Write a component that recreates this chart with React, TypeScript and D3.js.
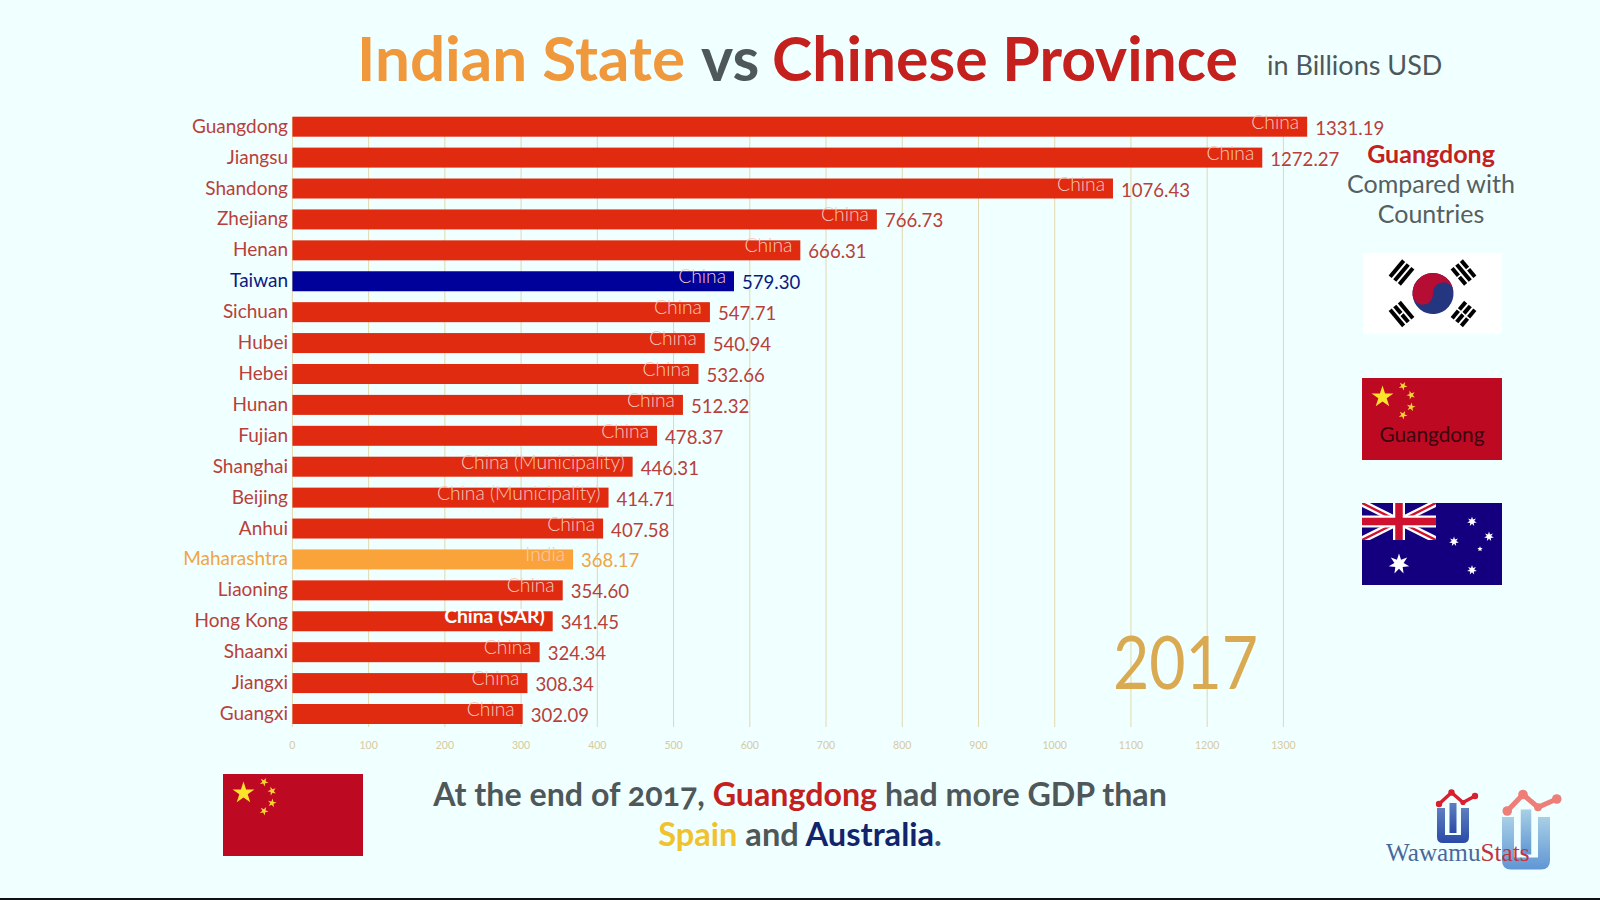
import React from "react";
import * as d3 from "d3";

const categories = ["Guangdong","Jiangsu","Shandong","Zhejiang","Henan","Taiwan","Sichuan","Hubei","Hebei","Hunan","Fujian","Shanghai","Beijing","Anhui","Maharashtra","Liaoning","Hong Kong","Shaanxi","Jiangxi","Guangxi"];
const values = [1331.19,1272.27,1076.43,766.73,666.31,579.30,547.71,540.94,532.66,512.32,478.37,446.31,414.71,407.58,368.17,354.60,341.45,324.34,308.34,302.09];
const countries = ["China","China","China","China","China","China","China","China","China","China","China","China (Municipality)","China (Municipality)","China","India","China","China (SAR)","China","China","China"];
const ticks = [0,100,200,300,400,500,600,700,800,900,1000,1100,1200,1300];

const FONT = "Lato, 'Open Sans', sans-serif";
const x = d3.scaleLinear().domain([0, 1300]).range([292.4, 1283.4]);
const y = d3.scaleBand<string>().domain(categories).range([116.7, 724]).paddingInner(0.353).paddingOuter(0);

const barColor = (c: string) => c === "Taiwan" ? "#00009a" : c === "Maharashtra" ? "#fba33b" : "#e02b10";
const textColor = (c: string) => c === "Taiwan" ? "#0b1a82" : c === "Maharashtra" ? "#f0a544" : "#b9403a";

function star(cx: number, cy: number, r: number, rot = 0, n = 5, inner = 0.382) {
  const pts: string[] = [];
  for (let i = 0; i < n * 2; i++) {
    const a = rot - Math.PI / 2 + (i * Math.PI) / n;
    const rr = i % 2 === 0 ? r : r * inner;
    pts.push(`${cx + rr * Math.cos(a)},${cy + rr * Math.sin(a)}`);
  }
  return pts.join(" ");
}

function ChinaFlag({ fx, fy, label }: { fx: number; fy: number; label?: string }) {
  return (
    <g transform={`translate(${fx},${fy})`}>
      <rect width={140} height={82} fill="#bd0a22" />
      <polygon points={star(20.5, 19, 11.5)} fill="#fbe32c" />
      <polygon points={star(41, 8, 4.6, 0.5)} fill="#f7d433" />
      <polygon points={star(49, 17, 4.6, 0.9)} fill="#f7d433" />
      <polygon points={star(49, 29, 4.6, 0.2)} fill="#f7d433" />
      <polygon points={star(41, 37, 4.6, 0.5)} fill="#f7d433" />
      {label && <text x={70} y={63.5} textAnchor="middle" fontFamily={FONT} fontSize={20.8} fill="#3a0610">{label}</text>}
    </g>
  );
}

function Trigram({ cx, cy, rot, gaps }: { cx: number; cy: number; rot: number; gaps: boolean[] }) {
  return (
    <g transform={`translate(${cx},${cy}) rotate(${rot})`}>
      {[-6, 0, 6].map((o, i) => gaps[i] ? (
        <g key={i}>
          <rect x={-10.5} y={o - 2} width={9.7} height={4} fill="#000" />
          <rect x={0.8} y={o - 2} width={9.7} height={4} fill="#000" />
        </g>
      ) : <rect key={i} x={-10.5} y={o - 2} width={21} height={4} fill="#000" />)}
    </g>
  );
}

function KoreaFlag({ fx, fy }: { fx: number; fy: number }) {
  const r = 20.5;
  return (
    <g transform={`translate(${fx},${fy})`}>
      <rect width={139} height={81} fill="#fff" />
      <g transform="translate(70,40.5) rotate(-5)">
        <circle r={r} fill="#24367f" />
        <path d={`M${-r},0 A${r},${r} 0 0 1 ${r},0 A${r / 2},${r / 2} 0 0 0 0,0 A${r / 2},${r / 2} 0 0 1 ${-r},0 Z`} fill="#b50d34" />
      </g>
      <Trigram cx={38.5} cy={19.5} rot={-50} gaps={[false, false, false]} />
      <Trigram cx={100.5} cy={19.5} rot={50} gaps={[true, false, true]} />
      <Trigram cx={38.5} cy={61} rot={50} gaps={[false, true, false]} />
      <Trigram cx={100.5} cy={61} rot={-50} gaps={[true, true, true]} />
    </g>
  );
}

function AustraliaFlag({ fx, fy }: { fx: number; fy: number }) {
  const w = 74, h = 37;
  return (
    <g transform={`translate(${fx},${fy})`}>
      <rect width={140} height={82} fill="#14007f" />
      <clipPath id="canton"><rect width={w} height={h} /></clipPath>
      <g clipPath="url(#canton)">
        <path d={`M0,0L${w},${h}M${w},0L0,${h}`} stroke="#fff" strokeWidth={7} />
        <path d={`M0,0L${w},${h}M${w},0L0,${h}`} stroke="#d0102f" strokeWidth={2.4} />
        <path d={`M${w / 2},0V${h}M0,${h / 2}H${w}`} stroke="#fff" strokeWidth={12} />
        <path d={`M${w / 2},0V${h}M0,${h / 2}H${w}`} stroke="#d0102f" strokeWidth={7.5} />
      </g>
      <polygon points={star(37, 61, 10.5, 0, 7, 0.45)} fill="#fff" />
      <polygon points={star(110, 18.5, 5, 0, 7, 0.45)} fill="#fff" />
      <polygon points={star(127, 33.5, 5, 0, 7, 0.45)} fill="#fff" />
      <polygon points={star(92, 38.5, 5, 0, 7, 0.45)} fill="#fff" />
      <polygon points={star(118, 46, 2.8, 0, 5, 0.45)} fill="#fff" />
      <polygon points={star(110, 67, 5, 0, 7, 0.45)} fill="#fff" />
    </g>
  );
}

function Logo({ id, ox, oy, s, fillA, fillB, lineCol, pts }: { id: string; ox: number; oy: number; s: number; fillA: string; fillB: string; lineCol: string; pts: number[][] }) {
  const line = d3.line()(pts.map(p => [p[0], p[1]] as [number, number])) || "";
  return (
    <g transform={`translate(${ox},${oy}) scale(${s})`}>
      <linearGradient id={id} x1="0" y1="0" x2="0" y2="1">
        <stop offset="0" stopColor={fillA} /><stop offset="1" stopColor={fillB} />
      </linearGradient>
      <path d="M0,0H8V27H24V0H32V29Q32,35 26,35H6Q0,35 0,29Z" fill={`url(#${id})`} />
      <rect x={12.5} y={-5} width={7} height={30} fill={`url(#${id})`} />
      <path d={line} fill="none" stroke={lineCol} strokeWidth={3.4} />
      {pts.map((p, i) => <circle key={i} cx={p[0]} cy={p[1]} r={i === 2 ? 2.6 : 3.2} fill={lineCol} />)}
    </g>
  );
}

export default function App() {
  return (
    <svg width={1600} height={900} viewBox="0 0 1600 900" style={{ position: "absolute", left: 0, top: 0, display: "block" }}>
      <rect width={1600} height={900} fill="#f0ffff" />
      <rect y={898} width={1600} height={2} fill="#111" />

      <text x={357} y={81} fontFamily={FONT} fontWeight={700} fontSize={61} fill="#f0983c" textLength={328} lengthAdjust="spacingAndGlyphs">Indian State</text>
      <text x={701} y={81} fontFamily={FONT} fontWeight={700} fontSize={61} fill="#4e5759">vs</text>
      <text x={772} y={81} fontFamily={FONT} fontWeight={700} fontSize={61} fill="#c4201e" textLength={466} lengthAdjust="spacingAndGlyphs">Chinese Province</text>
      <text x={1267} y={75} fontFamily={FONT} fontSize={27} fill="#4e5759">in Billions USD</text>

      {ticks.map(t => (
        <g key={t}>
          <line x1={x(t)} x2={x(t)} y1={117} y2={727} stroke="#e2d8ae" strokeWidth={1} />
          <text x={x(t)} y={749} textAnchor="middle" fontFamily={FONT} fontSize={10.5} fill="#d8ca9e">{t}</text>
        </g>
      ))}

      {categories.map((c, i) => {
        const top = y(c) as number;
        const bw = y.bandwidth();
        const sar = countries[i] === "China (SAR)";
        return (
          <g key={c}>
            <rect x={x(0)} y={top} width={x(values[i]) - x(0)} height={bw} fill={barColor(c)} />
            <text x={288} y={top + 16} textAnchor="end" fontFamily={FONT} fontSize={19} fill={textColor(c)}>{c}</text>
            <text x={x(values[i]) - 8} y={top + 12} textAnchor="end" fontFamily={FONT} fontWeight={sar ? 700 : 300} fontSize={19.3} fill={sar ? "#ffffff" : "#f6cabd"}>{countries[i]}</text>
            <text x={x(values[i]) + 8} y={top + 18} fontFamily={FONT} fontSize={18.6} fill={textColor(c)}>{values[i].toFixed(2)}</text>
          </g>
        );
      })}

      <text x={1431} y={163} textAnchor="middle" fontFamily={FONT} fontWeight={700} fontSize={25} fill="#c4201e">Guangdong</text>
      <text x={1431} y={193} textAnchor="middle" fontFamily={FONT} fontSize={25} fill="#55605f">Compared with</text>
      <text x={1431} y={223} textAnchor="middle" fontFamily={FONT} fontSize={25} fill="#55605f">Countries</text>

      <KoreaFlag fx={1363} fy={253} />
      <ChinaFlag fx={1362} fy={378} label="Guangdong" />
      <AustraliaFlag fx={1362} fy={503} />

      <text x={1113} y={689} fontFamily={FONT} fontSize={73} fill="#d9aa52" textLength={145} lengthAdjust="spacingAndGlyphs">2017</text>

      <ChinaFlag fx={223} fy={774} />

      <text y={806} fontFamily={FONT} fontWeight={700} fontSize={32.2} textAnchor="middle" fill="#4f5759" style={{ fontFeatureSettings: '"onum"' }}>
        <tspan x={800}>At the end of 2017, </tspan><tspan fill="#c4201e">Guangdong</tspan><tspan> had more GDP than</tspan>
      </text>
      <text y={846} fontFamily={FONT} fontWeight={700} fontSize={32.6} textAnchor="middle" fill="#4f5759">
        <tspan x={800} fill="#f0c32c">Spain</tspan><tspan> and </tspan><tspan fill="#12246b">Australia</tspan><tspan>.</tspan>
      </text>

      <Logo id="lgA" ox={1437} oy={808} s={1} fillA="#5f7fc0" fillB="#2a4aa8" lineCol="#d9202f" pts={[[2, -4], [14.5, -15.5], [26, -5.5], [38, -12]]} />
      <Logo id="lgB" ox={1502} oy={817} s={1.5} fillA="#a9cfe6" fillB="#5f96d4" lineCol="#ee7f78" pts={[[3.5, -4], [14, -15], [24, -6.5], [36.5, -12]]} />
      <text x={1386} y={861} fontFamily="'Liberation Serif', serif" fontSize={25.2}>
        <tspan fill="#48689c">Wawamu</tspan><tspan fill="#c4333a">Stats</tspan>
      </text>
    </svg>
  );
}
